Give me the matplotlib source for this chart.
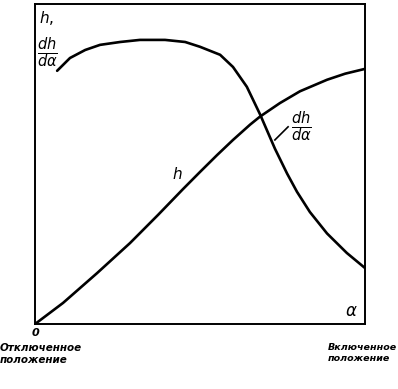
"""
plot.py

Recreate h and dh/dalpha versus alpha sketch.
"""

import matplotlib.pyplot as plt

# h curve (alpha in 0..1, value in 0..1)
h_alpha = [0.0, 0.085, 0.188, 0.288, 0.373, 0.448, 0.5, 0.552, 0.6, 0.652, 0.682, 0.742,
           0.803, 0.885, 0.94, 1.0]
h_value = [0.0, 0.066, 0.159, 0.253, 0.341, 0.421, 0.475, 0.528, 0.575, 0.623, 0.648, 0.69,
           0.727, 0.763, 0.782, 0.797]

# dh/dalpha curve
d_alpha = [0.067, 0.106, 0.152, 0.197, 0.258, 0.318, 0.394, 0.455, 0.5, 0.561, 0.6, 0.642,
           0.682, 0.727, 0.764, 0.794, 0.833, 0.885, 0.945, 1.0]
d_value = [0.791, 0.831, 0.856, 0.872, 0.881, 0.8875, 0.8875, 0.881, 0.866, 0.841, 0.803, 0.741,
           0.655, 0.548, 0.47, 0.413, 0.35, 0.283, 0.222, 0.175]

LINE = dict(color="black", lw=1.9, solid_capstyle="round", solid_joinstyle="round")
TXT = dict(color="black", style="italic", fontweight="bold", family="DejaVu Sans")


def main():

    fig = plt.figure(figsize=(3.98, 3.89), dpi=100)
    ax = fig.add_axes([0.088, 0.167, 0.829, 0.823])

    ax.plot(h_alpha, h_value, **LINE)
    ax.plot(d_alpha, d_value, **LINE)

    # leader line for dh/dalpha label
    ax.plot([0.727, 0.767], [0.575, 0.616], color="black", lw=1.2)

    ax.set_xlim(0, 1)
    ax.set_ylim(0, 1)
    ax.set_xticks([])
    ax.set_yticks([])
    for s in ax.spines.values():
        s.set_linewidth(1.4)

    ax.text(0.012, 0.985, r"$h,$", transform=ax.transAxes, va="top", fontsize=11, **TXT)
    ax.text(0.005, 0.90, r"$\frac{dh}{d\alpha}$", transform=ax.transAxes, va="top", fontsize=15, **TXT)
    ax.text(0.43, 0.47, r"$h$", fontsize=11, ha="center", va="center", **TXT)
    ax.text(0.806, 0.615, r"$\frac{dh}{d\alpha}$", fontsize=15, ha="center", va="center", **TXT)
    ax.text(0.96, 0.025, r"$\alpha$", fontsize=12, ha="center", **TXT)

    fig.text(0.088, 0.145, "0", fontsize=8, ha="center", va="center", **TXT)
    fig.text(0.0, 0.118, "Отключенное\nположение", fontsize=7.5, ha="left", va="top",
             linespacing=1.2, **TXT)
    fig.text(0.824, 0.118, "Включенное\nположение", fontsize=6.8, ha="left", va="top",
             linespacing=1.3, **TXT)

    fig.savefig("out.png", dpi=100)
    plt.close(fig)


if __name__ == "__main__":
    main()
